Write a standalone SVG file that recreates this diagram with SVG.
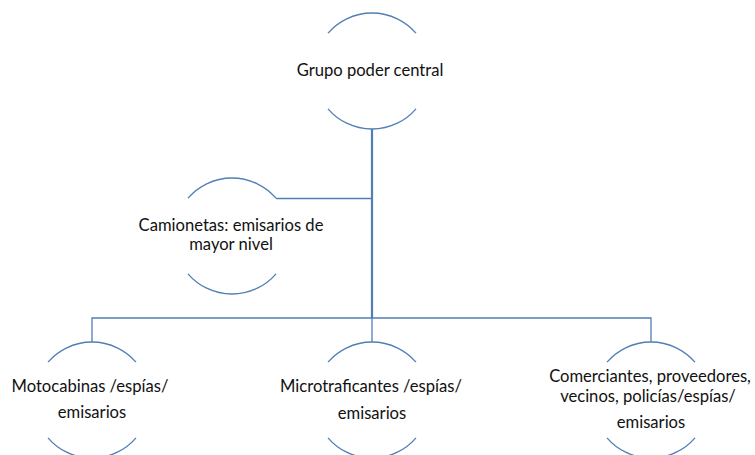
<svg xmlns="http://www.w3.org/2000/svg" width="755" height="455" viewBox="0 0 755 455">
<style>
.arc{fill:none;stroke:#4f7fb5;stroke-width:1.3}
.ln{fill:none;stroke:#4f7fb5;stroke-width:1.3}
.thick{fill:none;stroke:#4f7fb5;stroke-width:2.2}
text{font-family:Lato,"Liberation Sans",sans-serif;font-size:16.6px;fill:#111;text-anchor:middle}
</style>
<rect width="755" height="455" fill="#fff"/>
<g id="connectors">
<path class="thick" d="M372,129 V318"/>
<path class="ln" d="M276,198.5 H372"/>
<path class="ln" d="M92,342 V318 H651 V342"/>
<path class="ln" d="M372,318 V342"/>
</g>
<g id="n-central">
<path class="arc" d="M328,33.2 A58,58 0 0 1 416,33.2"/>
<path class="arc" d="M328,108.8 A58,58 0 0 0 416,108.8"/>
<text x="370" y="76">Grupo poder central</text>
</g>
<g id="n-camionetas">
<path class="arc" d="M188,198.2 A58,58 0 0 1 276,198.2"/>
<path class="arc" d="M188,273.8 A58,58 0 0 0 276,273.8"/>
<text x="231" y="231">Camionetas: emisarios de</text>
<text x="231" y="250">mayor nivel</text>
</g>
<g id="n-motocabinas">
<path class="arc" d="M48,362.2 A58,58 0 0 1 136,362.2"/>
<path class="arc" d="M48,437.8 A58,58 0 0 0 136,437.8"/>
<text x="90" y="392">Motocabinas /espías/</text>
<text x="92" y="418">emisarios</text>
</g>
<g id="n-micro">
<path class="arc" d="M328,362.2 A58,58 0 0 1 416,362.2"/>
<path class="arc" d="M328,437.8 A58,58 0 0 0 416,437.8"/>
<text x="371" y="392">Microtraficantes /espías/</text>
<text x="372" y="419">emisarios</text>
</g>
<g id="n-comerciantes">
<path class="arc" d="M607,362.2 A58,58 0 0 1 695,362.2"/>
<path class="arc" d="M607,437.8 A58,58 0 0 0 695,437.8"/>
<text x="650" y="382">Comerciantes, proveedores,</text>
<text x="648" y="402">vecinos, policías/espías/</text>
<text x="651" y="428">emisarios</text>
</g>
</svg>
